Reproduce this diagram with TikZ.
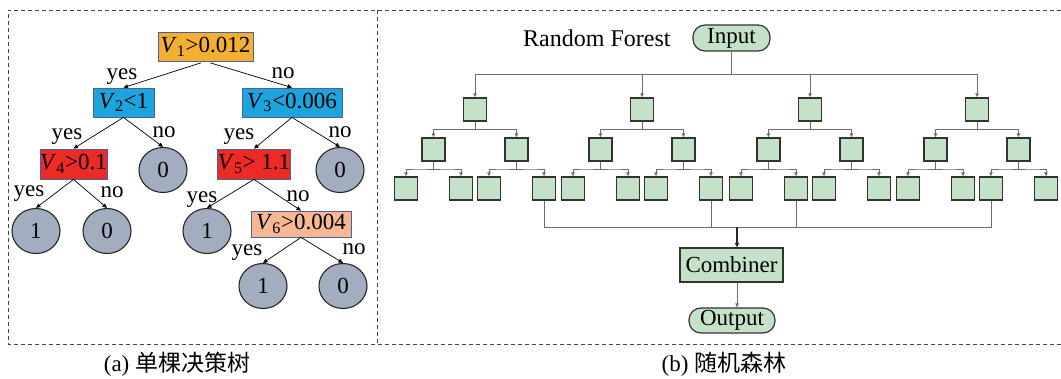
\documentclass[tikz,border=0pt]{standalone}
\usepackage{fontspec}
\setmainfont{Liberation Serif}
\newfontfamily\cjkfont{Noto Sans CJK SC}
\usetikzlibrary{arrows.meta,shapes.geometric,calc}

\definecolor{framecol}{HTML}{3B4467}
\definecolor{corange}{HTML}{F2AF30}
\definecolor{cblue}{HTML}{1EA4DC}
\definecolor{cred}{HTML}{EC2A26}
\definecolor{csalmon}{HTML}{F5B893}
\definecolor{condline}{HTML}{4E5E9E}
\definecolor{leafgray}{HTML}{A2AEC0}
\definecolor{rfgreen}{HTML}{C4E2C8}
\definecolor{boxline}{HTML}{333333}
\definecolor{wire}{HTML}{6E6E6E}

\begin{document}
\begin{tikzpicture}[x=1pt,y=-1pt,
  font=\fontsize{23pt}{27pt}\selectfont,
  frame/.style={draw=framecol, line width=0.9pt, dash pattern=on 4pt off 3pt},
  cond/.style={draw=condline, line width=0.8pt, inner sep=0pt, minimum height=29pt},
  leafnode/.style={ellipse, draw=black!85, line width=1.1pt, fill=leafgray,
    minimum width=48pt, minimum height=45pt, inner sep=0pt},
  tarrow/.style={-{Triangle[length=4.5pt,width=4pt]}, line width=0.7pt},
  lbl/.style={inner sep=0pt, anchor=base},
  sq/.style={draw=boxline, line width=1.3pt, fill=rfgreen,
    minimum width=23pt, minimum height=23pt, inner sep=0pt},
  term/.style={draw=boxline, line width=1.2pt, fill=rfgreen, rounded corners=12pt,
    inner sep=0pt, minimum height=26pt},
  wirearrow/.style={draw=wire, line width=0.9pt, -{Triangle[length=4pt,width=3.5pt]}},
  wireline/.style={draw=wire, line width=0.9pt},
]
\useasboundingbox (0,0) rectangle (1061,379);

% dashed panels
\draw[frame] (1061,10.5) -- (8,10.5) -- (8,344.5) -- (1061,344.5);
\draw[frame] (377,10.5) -- (377,344.5);

% ---------- (a) single decision tree ----------
\node[cond, fill=corange, minimum width=95pt] (v1) at (205.5,46.5) {\textit{V}\textsubscript{1}>0.012};
\node[cond, fill=cblue, minimum width=61pt] (v2) at (123.5,102.5) {\textit{V}\textsubscript{2}<1};
\node[cond, fill=cblue, minimum width=100pt] (v3) at (292,102.5) {\textit{V}\textsubscript{3}<0.006};
\node[cond, fill=cred, minimum width=67pt, minimum height=30pt] (v4) at (73.5,164) {\textit{V}\textsubscript{4}>0.1};
\node[cond, fill=cred, minimum width=70pt, minimum height=30pt] (v5) at (254,164) {\textit{V}\textsubscript{5}> 1.1};
\node[cond, fill=csalmon, minimum width=100pt, minimum height=26pt] (v6) at (301,224) {\textit{V}\textsubscript{6}>0.004};

\node[leafnode] (r2) at (163,170) {0};
\node[leafnode] (r3) at (340,170) {0};
\node[leafnode] (r4a) at (36,231) {1};
\node[leafnode] (r4b) at (107,231) {0};
\node[leafnode] (r5) at (207,231) {1};
\node[leafnode] (r6a) at (263,286) {1};
\node[leafnode] (r6b) at (343,286) {0};

\draw[tarrow, shorten <=5pt] (v1.south) -- (v2.north);
\draw[tarrow, shorten <=5pt] (v1.south) -- (v3.north);
\draw[tarrow] (v2.south) -- (v4.north);
\draw[tarrow] (v2.south) -- (r2.north);
\draw[tarrow] (v3.south) -- (v5.north);
\draw[tarrow] (v3.south) -- (r3.north);
\draw[tarrow] (v4.south) -- (r4a.north);
\draw[tarrow] (v4.south) -- (r4b.north);
\draw[tarrow] (v5.south) -- (r5.north);
\draw[tarrow] (v5.south) -- (v6.north);
\draw[tarrow] (v6.south) -- (r6a.north);
\draw[tarrow] (v6.south) -- (r6b.north);

\node[lbl] (y1) at (122,79.5) {yes};
\node[lbl] (n1) at (283,79) {no};
\node[lbl] (y2) at (67,140) {yes};
\node[lbl] (n2) at (164,138) {no};
\node[lbl] (y3) at (239,140) {yes};
\node[lbl] (n3) at (340,138) {no};
\node[lbl] (y4) at (29,197) {yes};
\node[lbl] (n4) at (112,198) {no};
\node[lbl] (y5) at (202,203) {yes};
\node[lbl] (n5) at (298,202) {no};
\node[lbl] (y6) at (247,256) {yes};
\node[lbl] (n6) at (354,255) {no};

\node (capa) at (177,364) {(a) {\cjkfont 单棵决策树}};

% ---------- (b) random forest ----------
\node[lbl, anchor=base west, font=\fontsize{24pt}{28pt}\selectfont] (title) at (523,47) {Random Forest};
\node[term, minimum width=77pt] (in) at (731.5,38) {Input};

\foreach \t [count=\i] in {475,642,810,977} {
  \node[sq] (t\i) at (\t,109.5) {};
  \node[sq] (t\i-a) at (\t-41.5,149.5) {};
  \node[sq] (t\i-b) at (\t+41.5,149.5) {};
  \node[sq] (t\i-a-1) at (\t-69,188.5) {};
  \node[sq] (t\i-a-2) at (\t-14,188.5) {};
  \node[sq] (t\i-b-1) at (\t+14,188.5) {};
  \node[sq] (t\i-b-2) at (\t+69,188.5) {};
  \draw[wirearrow] (in.south) |- ($(in.south)!.5!(t\i.north)$) -| (t\i.north);
  \foreach \p/\c in {t\i/t\i-a, t\i/t\i-b, t\i-a/t\i-a-1, t\i-a/t\i-a-2, t\i-b/t\i-b-1, t\i-b/t\i-b-2} {
    \draw[wirearrow] (\p.south) |- ($(\p.south)!.5!(\c.north)$) -| (\c.north);
  }
}

\node[draw=boxline, line width=1.2pt, fill=rfgreen, minimum width=103pt, minimum height=34pt, inner sep=0pt] (comb) at (731.5,265) {Combiner};
\node[term, minimum width=86pt, minimum height=25pt] (out) at (732,320.5) {Output};

\coordinate (join) at (737,227);
\foreach \l in {t1-b-2, t2-b-2, t3-a-2, t4-b-1} {
  \draw[wireline] (\l.south) |- (join);
}
\draw[line width=1.5pt, draw=black!85, -{Triangle[length=4.5pt,width=4pt]}] (join) -- (join |- comb.north);
\draw[wirearrow] (join |- comb.south) -- (join |- out.north);

\node (capb) at (724,364) {(b) {\cjkfont 随机森林}};
\end{tikzpicture}
\end{document}
